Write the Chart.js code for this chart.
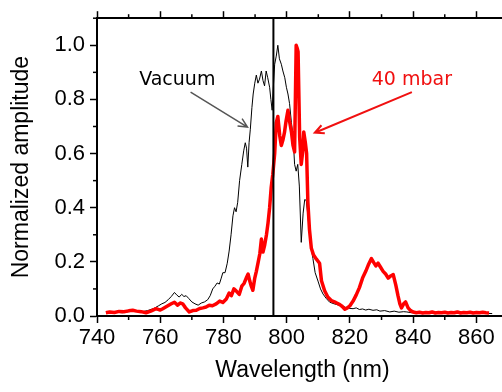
<!DOCTYPE html>
<html>
<head>
<meta charset="utf-8">
<script src="https://cdn.jsdelivr.net/npm/chart.js@4.4.1/dist/chart.umd.min.js"></script>
<style>
  html, body { margin: 0; padding: 0; background: #fff; overflow: hidden; }
  #wrap { width: 520px; height: 392px; }
</style>
</head>
<body>
<div id="wrap"><canvas id="myChart" width="520" height="392"></canvas></div>
<script>
// spectra: wavelength (nm) and normalized amplitude
const vacuumNm = [
  744, 746, 748, 750, 752, 754, 756, 758, 759.5, 760.5,
  761.5, 762.5, 763.5, 764.5, 765.2, 766, 766.8, 767.5, 768.2, 769,
  770, 771, 772, 773, 774, 775, 775.8, 776.6, 777.3, 778,
  778.7, 779.3, 779.8, 780.5, 781.2, 781.8, 782.4, 783, 783.5, 784,
  784.5, 785.1, 785.8, 786.4, 786.9, 787.3, 787.7, 788.1, 788.5, 789,
  789.4, 789.9, 790.4, 790.9, 791.4, 792, 792.5, 793, 793.5, 794,
  794.6, 795, 795.4, 795.8, 796.2, 796.7, 797.2, 797.7, 798.3, 798.8,
  799.4, 799.9, 800.4, 800.9, 801.5, 802, 802.5, 803, 803.5, 804,
  804.6, 805.2, 805.7, 806.2, 806.8, 807.3, 807.8, 808.3, 809, 809.9,
  810.7, 811.5, 812.5, 813.6, 815, 816.8, 818, 819, 820, 821,
  822, 823, 824, 825, 826, 827.3, 828.5, 829.5, 831, 832.6,
  834, 835.5, 837, 838, 839.5, 841, 843, 845, 848, 851,
  854, 857, 860, 863, 865
];
const vacuumAmp = [
  0.010, 0.014, 0.012, 0.016, 0.018, 0.015, 0.020, 0.028, 0.038, 0.045,
  0.050, 0.060, 0.072, 0.087, 0.078, 0.070, 0.080, 0.072, 0.075, 0.065,
  0.052, 0.045, 0.040, 0.048, 0.052, 0.060, 0.075, 0.100, 0.110, 0.122,
  0.118, 0.140, 0.160, 0.160, 0.195, 0.240, 0.300, 0.370, 0.400, 0.385,
  0.420, 0.500, 0.560, 0.610, 0.640, 0.620, 0.550, 0.640, 0.690, 0.770,
  0.820, 0.860, 0.890, 0.860, 0.875, 0.905, 0.870, 0.850, 0.905, 0.880,
  0.845, 0.800, 0.760, 0.850, 0.930, 0.960, 1.000, 0.950, 0.930, 0.905,
  0.880, 0.845, 0.820, 0.785, 0.714, 0.666, 0.560, 0.535, 0.560, 0.480,
  0.272, 0.380, 0.430, 0.427, 0.360, 0.296, 0.250, 0.212, 0.160, 0.129,
  0.100, 0.081, 0.065, 0.051, 0.045, 0.039, 0.035, 0.030, 0.028, 0.027,
  0.030, 0.024, 0.026, 0.022, 0.025, 0.021, 0.023, 0.018, 0.020, 0.015,
  0.018, 0.014, 0.016, 0.015, 0.012, 0.013, 0.010, 0.012, 0.010, 0.013,
  0.010, 0.012, 0.011, 0.010, 0.009
];
const mbarNm = [
  742.8, 744, 745.5, 747, 748.5, 750, 751.3, 752.5, 754, 755.5,
  757, 758.7, 760, 760.8, 762, 763.5, 764.5, 765.5, 766.3, 767.1,
  768, 769.2, 770.3, 771.4, 772.5, 773.5, 774.5, 775.5, 776.5, 777.7,
  778.8, 779.8, 780.9, 781.8, 782.5, 783.3, 784, 785, 785.8, 786.5,
  787.2, 787.8, 788.3, 788.8, 789.3, 789.9, 790.4, 791, 791.5, 792,
  792.5, 793, 793.6, 794.1, 794.6, 795.1, 795.6, 796.2, 796.7, 797.2,
  797.8, 798.3, 798.8, 799.3, 799.8, 800.4, 800.9, 801.5, 802, 802.5,
  803, 803.3, 803.6, 804.1, 804.6, 805, 805.4, 805.9, 806.3, 806.7,
  807.2, 807.8, 808.5, 809.4, 810.4, 811, 812, 813, 814.1, 815.5,
  816.8, 817.6, 818.4, 819.2, 820, 821, 822, 823, 824, 825,
  825.8, 826.8, 827.5, 828.2, 828.9, 829.7, 830.5, 831.3, 832.1, 832.9,
  833.7, 834.5, 835.2, 835.8, 836.3, 837, 837.6, 838.4, 839.2, 840,
  841, 842, 843, 844, 845, 846, 847, 848, 849, 850,
  851, 852, 853, 854, 855, 856, 857, 858, 859, 860,
  861, 862, 863, 864
];
const mbarAmp = [
  0.012, 0.015, 0.013, 0.017, 0.016, 0.019, 0.021, 0.018, 0.016, 0.012,
  0.018, 0.027, 0.022, 0.027, 0.035, 0.045, 0.051, 0.040, 0.048, 0.045,
  0.030, 0.015, 0.020, 0.021, 0.028, 0.030, 0.033, 0.040, 0.038, 0.045,
  0.055, 0.050, 0.063, 0.085, 0.075, 0.100, 0.093, 0.080, 0.110, 0.120,
  0.140, 0.155, 0.130, 0.110, 0.095, 0.140, 0.165, 0.200, 0.230, 0.284,
  0.236, 0.260, 0.300, 0.344, 0.400, 0.475, 0.523, 0.600, 0.714, 0.737,
  0.666, 0.630, 0.650, 0.678, 0.720, 0.760, 0.720, 0.680, 0.630, 0.606,
  1.000, 0.990, 0.976, 0.660, 0.560, 0.600, 0.680, 0.640, 0.600, 0.420,
  0.320, 0.250, 0.225, 0.210, 0.195, 0.130, 0.093, 0.070, 0.057, 0.050,
  0.042, 0.035, 0.025, 0.030, 0.038, 0.055, 0.078, 0.105, 0.140, 0.165,
  0.188, 0.212, 0.198, 0.185, 0.195, 0.180, 0.165, 0.155, 0.140, 0.148,
  0.153, 0.115, 0.075, 0.045, 0.030, 0.045, 0.052, 0.030, 0.020, 0.015,
  0.012, 0.014, 0.011, 0.013, 0.012, 0.015, 0.011, 0.013, 0.012, 0.014,
  0.011, 0.013, 0.012, 0.015, 0.011, 0.013, 0.012, 0.014, 0.011, 0.013,
  0.012, 0.014, 0.012, 0.011
];
const markerNm = 795.8;
const xTickLabels = [740, 760, 780, 800, 820, 840, 860];
const yTickLabels = ['0.0', '0.2', '0.4', '0.6', '0.8', '1.0'];

const toPoints = (xs, ys) => xs.map((x, i) => ({x: x, y: ys[i]}));

const FONT = '"Liberation Sans", Arial, sans-serif';
const isMajorX = v => xTickLabels.includes(Math.round(v));
const isMajorY = v => yTickLabels.includes(v.toFixed(1));

// text labels with arrows, in data units
const notes = [
  {text: 'Vacuum', color: '#000', at: [765.4, 0.852], from: [769.6, 0.827], to: [787.6, 0.698], arrow: '#555', lw: 1.5},
  {text: '40 mbar', color: '#f01010', at: [839.6, 0.852], from: [839.6, 0.827], to: [808.9, 0.677], arrow: '#f01010', lw: 2}
];

const minorTicks = {
  id: 'minorTicks',
  afterDraw(chart) {
    const ctx = chart.ctx, a = chart.chartArea;
    ctx.save();
    ctx.strokeStyle = '#000';
    ctx.lineWidth = 1.5;
    ['x', 'xTop', 'y'].forEach(id => {
      const s = chart.scales[id];
      s.ticks.forEach((t, i) => {
        const major = id === 'y' ? isMajorY(t.value) : isMajorX(t.value);
        if (major) return;
        const p = s.getPixelForTick(i);
        ctx.beginPath();
        if (id === 'x') { ctx.moveTo(p, a.bottom); ctx.lineTo(p, a.bottom + 4); }
        else if (id === 'xTop') { ctx.moveTo(p, a.top); ctx.lineTo(p, a.top - 4); }
        else { ctx.moveTo(a.left, p); ctx.lineTo(a.left - 4, p); }
        ctx.stroke();
      });
    });
    ctx.restore();
  }
};

const annotations = {
  id: 'annotations',
  afterDraw(chart) {
    const ctx = chart.ctx, sx = chart.scales.x, sy = chart.scales.y;
    const px = p => [sx.getPixelForValue(p[0]), sy.getPixelForValue(p[1])];
    ctx.save();
    notes.forEach(n => {
      const [tx, ty] = px(n.at);
      ctx.font = '19px "DejaVu Sans", Verdana, sans-serif';
      ctx.fillStyle = n.color;
      ctx.textAlign = 'center';
      ctx.textBaseline = 'alphabetic';
      ctx.fillText(n.text, tx, ty);
      const [x1, y1] = px(n.from);
      const [x2, y2] = px(n.to);
      ctx.strokeStyle = n.arrow;
      ctx.lineWidth = n.lw;
      ctx.beginPath();
      ctx.moveTo(x1, y1);
      ctx.lineTo(x2, y2);
      const ang = Math.atan2(y2 - y1, x2 - x1);
      ctx.moveTo(x2 - 10 * Math.cos(ang - 0.45), y2 - 10 * Math.sin(ang - 0.45));
      ctx.lineTo(x2, y2);
      ctx.lineTo(x2 - 10 * Math.cos(ang + 0.45), y2 - 10 * Math.sin(ang + 0.45));
      ctx.stroke();
    });
    ctx.restore();
  }
};

new Chart(document.getElementById('myChart'), {
  type: 'line',
  data: {
    datasets: [{
      label: 'Vacuum',
      data: toPoints(vacuumNm, vacuumAmp),
      borderColor: '#000',
      borderWidth: 1,
      order: 2
    }, {
      label: '40 mbar',
      data: toPoints(mbarNm, mbarAmp),
      borderColor: '#ff0000',
      borderWidth: 3.5,
      borderJoinStyle: 'round',
      order: 1
    }, {
      label: 'marker',
      data: [{x: markerNm, y: 0}, {x: markerNm, y: 1.1}],
      borderColor: '#000',
      borderWidth: 2,
      order: 0
    }]
  },
  options: {
    responsive: false,
    animation: false,
    layout: {padding: {top: 0, right: 12, bottom: 0, left: 0}},
    elements: {point: {radius: 0}, line: {tension: 0}},
    plugins: {legend: {display: false}, tooltip: {enabled: false}},
    scales: {
      x: {
        type: 'linear', position: 'bottom', min: 740, max: 870,
        afterFit: s => { s.height = 76; },
        border: {color: '#000', width: 2},
        grid: {drawOnChartArea: false, tickLength: 7, tickWidth: 1.5,
               tickColor: c => isMajorX(c.tick.value) ? '#000' : 'rgba(0,0,0,0)'},
        ticks: {stepSize: 10, autoSkip: false, maxRotation: 0, padding: 2, color: '#000',
                font: {family: FONT, size: 22},
                callback: v => isMajorX(v) ? String(Math.round(v)) : ''},
        title: {display: true, text: 'Wavelength (nm)', color: '#000',
                font: {family: FONT, size: 23}, padding: {top: 0, bottom: 8}}
      },
      xTop: {
        type: 'linear', position: 'top', min: 740, max: 870,
        afterFit: s => { s.height = 9; },
        border: {color: '#000', width: 2},
        grid: {drawOnChartArea: false, tickLength: 7, tickWidth: 1.5,
               tickColor: c => isMajorX(c.tick.value) ? '#000' : 'rgba(0,0,0,0)'},
        ticks: {stepSize: 10, display: false}
      },
      y: {
        type: 'linear', position: 'left', min: 0, max: 1.1,
        afterFit: s => { s.width = 97; },
        border: {color: '#000', width: 2},
        grid: {drawOnChartArea: false, tickLength: 7, tickWidth: 1.5,
               tickColor: c => isMajorY(c.tick.value) ? '#000' : 'rgba(0,0,0,0)'},
        ticks: {stepSize: 0.1, autoSkip: false, padding: 5, color: '#000',
                font: {family: FONT, size: 22},
                callback: v => isMajorY(v) ? v.toFixed(1) : ''},
        title: {display: true, text: 'Normalized amplitude', color: '#000',
                font: {family: FONT, size: 23}, padding: {top: 8, bottom: 0}}
      }
    }
  },
  plugins: [minorTicks, annotations]
});
</script>
</body>
</html>
